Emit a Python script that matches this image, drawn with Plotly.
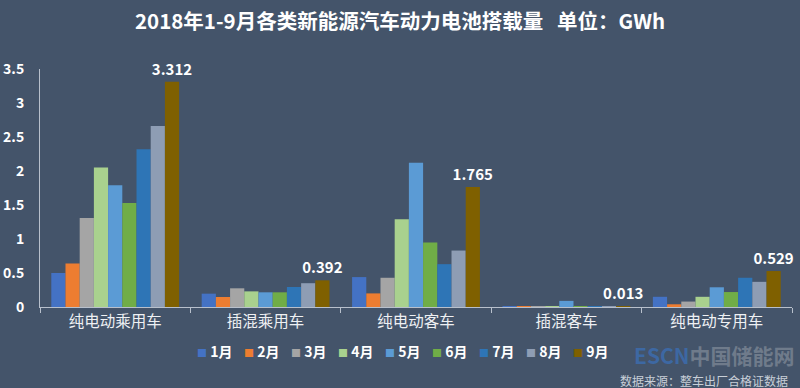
import plotly.graph_objects as go

categories = ["纯电动乘用车", "插混乘用车", "纯电动客车", "插混客车", "纯电动专用车"]
months = ["1月", "2月", "3月", "4月", "5月", "6月", "7月", "8月", "9月"]
values = {
    "1月": [0.50, 0.196, 0.44, 0.005, 0.15],
    "2月": [0.64, 0.147, 0.20, 0.010, 0.04],
    "3月": [1.31, 0.275, 0.43, 0.010, 0.08],
    "4月": [2.05, 0.230, 1.29, 0.010, 0.15],
    "5月": [1.79, 0.216, 2.12, 0.090, 0.29],
    "6月": [1.53, 0.216, 0.95, 0.010, 0.22],
    "7月": [2.32, 0.294, 0.63, 0.010, 0.43],
    "8月": [2.66, 0.350, 0.83, 0.010, 0.37],
    "9月": [3.312, 0.392, 1.765, 0.013, 0.529],
}
colors = ["#4472C4", "#ED7D31", "#A5A5A5", "#A9D18E", "#5B9BD5",
          "#70AD47", "#2E75B6", "#8E9DB4", "#7F6000"]
yticks = [0, 0.5, 1, 1.5, 2, 2.5, 3, 3.5]
ytick_labels = ["0", "0.5", "1", "1.5", "2", "2.5", "3", "3.5"]

BG = "#44546A"
FONT = "Noto Sans CJK SC"
W, H = 800, 388
ML, MR, MT, MB = 40, 8, 69, 81

fig = go.Figure()
for m, c in zip(months, colors):
    show_text = (m == "9月")
    fig.add_trace(go.Bar(
        x=categories, y=values[m], name=m, marker=dict(color=c, line=dict(width=0)),
        text=[f"{v:.3f}" for v in values[m]] if show_text else None,
        textposition="outside" if show_text else "none",
        constraintext="none",
        textfont=dict(family=FONT, size=15, color="white", weight="bold"),
        cliponaxis=False,
    ))

fig.update_layout(
    width=W, height=H,
    paper_bgcolor=BG, plot_bgcolor=BG,
    margin=dict(l=ML, r=MR, t=MT, b=MB, autoexpand=False),
    barmode="group", bargap=0.15, bargroupgap=0,
    title=dict(text="2018年1-9月各类新能源汽车动力电池搭载量&nbsp;&nbsp;&nbsp;单位：GWh",
               x=0.5, xanchor="center", y=1 - 22 / H, yanchor="middle",
               font=dict(family=FONT, size=20.5, color="white", weight="bold")),
    font=dict(family=FONT, color="white"),
    showlegend=False,
    xaxis=dict(showline=True, linecolor="#B8C0CC", linewidth=1,
               ticks="outside", tickson="boundaries", ticklen=5, tickcolor="#B8C0CC",
               tickfont=dict(family=FONT, size=15.5, color="#EEF0F3"),
               showgrid=False, zeroline=False),
    yaxis=dict(range=[0, 3.5], tickvals=yticks, ticktext=ytick_labels,
               showline=True, linecolor="#B8C0CC", linewidth=1,
               ticks="", showgrid=False, zeroline=False, ticklabelstandoff=12,
               tickfont=dict(family=FONT, size=14, color="white", weight="bold")),
)

# legend built from months / colors
pw = W - ML - MR
ph = H - MT - MB
leg_y = -(351 - (H - MB)) / ph
for i, (m, c) in enumerate(zip(months, colors)):
    px = 195 + i * 47
    fig.add_annotation(
        text=f"<span style='color:{c};font-size:10px'>■</span> {m}",
        xref="paper", yref="paper", x=(px - ML) / pw, y=leg_y,
        xanchor="left", yanchor="middle", showarrow=False,
        font=dict(family=FONT, size=14, color="white", weight="bold"))

fig.add_annotation(text="<span style='color:#3B6FB6'>ESCN</span><span style='color:#7E8896'>中国储能网</span>",
                   xref="paper", yref="paper", x=(797 - ML) / pw, y=-(355 - (H - MB)) / ph,
                   xanchor="right", yanchor="middle", showarrow=False, opacity=0.75,
                   font=dict(family=FONT, size=21, weight="bold"))
fig.add_annotation(text="数据来源：整车出厂合格证数据", xref="paper", yref="paper",
                   x=(790 - ML) / pw, y=-(380 - (H - MB)) / ph,
                   xanchor="right", yanchor="middle", showarrow=False,
                   font=dict(family=FONT, size=12, color="#C8CFD8"))

fig.write_html("out.html", config={"displayModeBar": False},
               post_script="document.body.style.margin='0';document.body.style.overflow='hidden';")
